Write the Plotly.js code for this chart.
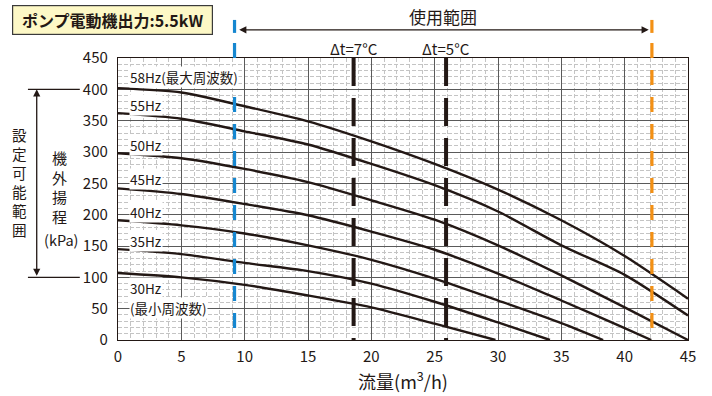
<!DOCTYPE html>
<html>
<head>
<meta charset="utf-8">
<script src="https://cdn.plot.ly/plotly-3.0.1.min.js"></script>
<style>
  html, body { margin: 0; padding: 0; background: #fff; }
  #chart { width: 712px; height: 396px; }
</style>
</head>
<body>
<div id="chart"></div>
<script>
// ---- data ----
const hz58Flow = [0, 5, 10, 15, 20, 25, 30, 35, 40, 45];
const hz58Head = [402, 395, 373, 349, 317, 281, 240, 191, 134, 66];
const hz55Flow = [0, 5, 10, 15, 20, 25, 30, 35, 40, 45];
const hz55Head = [362, 353, 333, 312, 281, 247, 205, 151, 104, 39];
const hz50Flow = [0, 5, 10, 15, 20, 25, 30, 35, 40, 45];
const hz50Head = [298, 290, 273, 252, 223, 192, 151, 103, 52, 0];
const hz45Flow = [0, 5, 10, 15, 20, 25, 30, 35, 40, 42.1];
const hz45Head = [242, 233, 217, 199, 173, 144, 106, 63, 19, 0];
const hz40Flow = [0, 5, 10, 15, 20, 25, 30, 35, 38.3];
const hz40Head = [191, 183, 170, 151, 128, 98, 63, 27, 0];
const hz35Flow = [0, 5, 10, 15, 20, 25, 30, 34.1];
const hz35Head = [145, 137, 123, 110, 90, 61, 28, 0];
const hz30Flow = [0, 5, 10, 15, 20, 25, 29.8];
const hz30Head = [107, 100, 88, 71, 52, 26, 0];

const curveNames = ['58Hz', '55Hz', '50Hz', '45Hz', '40Hz', '35Hz', '30Hz'];
const curveLabels = ['58Hz(最大周波数)', '55Hz', '50Hz', '45Hz', '40Hz', '35Hz', '30Hz', '(最小周波数)'];

const minFlow = 9.2;     // 使用範囲 lower bound (blue)
const maxFlow = 42.15;   // 使用範囲 upper bound (orange)
const dt7Flow = 18.6;    // Δt=7°C
const dt5Flow = 25.9;    // Δt=5°C
const dtLabels = ['Δt=7°C', 'Δt=5°C'];

const xTicks = [0, 5, 10, 15, 20, 25, 30, 35, 40, 45];
const yTicks = [0, 50, 100, 150, 200, 250, 300, 350, 400, 450];
const settingRange = [100, 400];

const titleText = 'ポンプ電動機出力:5.5kW';
const rangeText = '使用範囲';
const sideText1 = '設定可能範囲';
const sideText2 = '機外揚程';
const unitText = '(kPa)';
const xTitle = '流量(m<sup>3</sup>/h)';

// ---- build ----
const INK = '#231815';
const FONT = '"Noto Sans CJK JP", "Noto Sans", sans-serif';
const flows = [hz58Flow, hz55Flow, hz50Flow, hz45Flow, hz40Flow, hz35Flow, hz30Flow];
const heads = [hz58Head, hz55Head, hz50Head, hz45Head, hz40Head, hz35Head, hz30Head];

const traces = flows.map((f, i) => ({
  type: 'scatter', mode: 'lines', name: curveNames[i],
  x: f, y: heads[i],
  line: { color: INK, width: 2.4, shape: 'spline', smoothing: 0.7 },
  hoverinfo: 'skip', showlegend: false
}));

const shapes = [];
// black Δt lines
[dt7Flow, dt5Flow].forEach(v => shapes.push({
  type: 'line', xref: 'x', yref: 'y', x0: v, x1: v, y0: 450, y1: 0,
  line: { color: INK, width: 4, dash: '28px,12px' }, layer: 'above'
}));
// blue / orange range lines
[[minFlow, '#1687d0'], [maxFlow, '#f39014']].forEach(([v, c]) => {
  shapes.push({
    type: 'line', xref: 'x', yref: 'paper', x0: v, x1: v, y0: 1.053, y1: 0,
    line: { color: c, width: 3.2, dash: '15px,12px' }, layer: 'above'
  });
  shapes.push({
    type: 'line', xref: 'x', yref: 'paper', x0: v, x1: v, y0: 1.135, y1: 1.089,
    line: { color: c, width: 3.2 }, layer: 'above'
  });
});
// left bracket horizontal lines
settingRange.forEach(v => shapes.push({
  type: 'line', xref: 'paper', yref: 'y', x0: -0.158, x1: -0.067, y0: v, y1: v,
  line: { color: INK, width: 1.2 }
}));

const annotations = [];
// title box
annotations.push({
  xref: 'paper', yref: 'paper', x: -0.0098, y: 1.133, xanchor: 'center', yanchor: 'middle',
  text: '<b>' + titleText + '</b>', showarrow: false,
  font: { family: FONT, size: 16, color: INK },
  bgcolor: '#fdf8c6', bordercolor: '#3a3a3a', borderwidth: 1.2, borderpad: 1,
  width: 197, height: 26
});
// 使用範囲 arrow + text
annotations.push({
  xref: 'x', yref: 'paper', x: maxFlow - 0.25, y: 1.1, axref: 'x', ayref: 'pixel',
  ax: minFlow + 0.25, ay: 0, text: '', showarrow: true, arrowhead: 2, startarrowhead: 2,
  arrowside: 'end+start', arrowsize: 1.1, arrowwidth: 1.3, arrowcolor: INK
});
annotations.push({
  xref: 'x', yref: 'paper', x: (minFlow + maxFlow) / 2, y: 1.146, text: rangeText,
  showarrow: false, font: { family: FONT, size: 17, color: INK }, yanchor: 'middle'
});
// Δt labels
[dt7Flow, dt5Flow].forEach((v, i) => annotations.push({
  xref: 'x', yref: 'paper', x: v, y: 1.035, text: dtLabels[i], showarrow: false,
  yanchor: 'middle', font: { family: FONT, size: 15, color: INK }
}));
// curve labels
const labelY = [420, 375, 311, 257, 205, 158, 83, 51];
curveLabels.forEach((t, i) => annotations.push({
  xref: 'x', yref: 'y', x: 0.9, y: labelY[i], xanchor: 'left', yanchor: 'middle',
  text: t, showarrow: false, bgcolor: '#ffffff', borderpad: 0,
  font: { family: FONT, size: 13.5, color: INK }
}));
// left bracket arrow
annotations.push({
  xref: 'paper', yref: 'y', x: -0.1426, y: settingRange[1], axref: 'pixel', ayref: 'y',
  ax: 0, ay: settingRange[0], text: '', showarrow: true, arrowhead: 2, startarrowhead: 2,
  arrowside: 'end+start', arrowsize: 1.1, arrowwidth: 1.3, arrowcolor: INK
});
// vertical texts (one character per line)
annotations.push({
  xref: 'paper', yref: 'paper', x: -0.172, y: (340 - 181.7) / 282,
  text: Array.from(sideText1).join('<br>'), showarrow: false,
  xanchor: 'center', yanchor: 'middle',
  font: { family: FONT, size: 14.6, color: INK }
});
annotations.push({
  xref: 'paper', yref: 'paper', x: -0.1018, y: (340 - 186.7) / 282,
  text: Array.from(sideText2).join('<br>'), showarrow: false,
  xanchor: 'center', yanchor: 'middle',
  font: { family: FONT, size: 15, color: INK }
});
annotations.push({
  xref: 'paper', yref: 'paper', x: -0.1, y: (340 - 240) / 282,
  text: unitText, showarrow: false, xanchor: 'center', yanchor: 'middle',
  font: { family: FONT, size: 14.5, color: INK }
});

const layout = {
  width: 712, height: 396,
  margin: { l: 118, r: 24, t: 58, b: 56 },
  paper_bgcolor: '#ffffff', plot_bgcolor: '#ffffff',
  font: { family: FONT, color: INK, size: 15 },
  showlegend: false,
  xaxis: {
    range: [0, 45], tickvals: xTicks, ticktext: xTicks.map(String),
    showgrid: true, gridcolor: '#5a5a5a', gridwidth: 1,
    minor: { dtick: 1, showgrid: true, gridcolor: '#c4c4c4', gridwidth: 1, griddash: '4px,2px' },
    showline: true, mirror: true, linecolor: INK, linewidth: 1.2,
    zeroline: false, ticks: '', ticklabelstandoff: 3,
    tickfont: { family: FONT, size: 15, color: INK },
    title: { text: xTitle, font: { family: FONT, size: 18, color: INK }, standoff: 6 }
  },
  yaxis: {
    range: [0, 450], tickvals: yTicks, ticktext: yTicks.map(String),
    showgrid: true, gridcolor: '#5a5a5a', gridwidth: 1,
    minor: { dtick: 10, showgrid: true, gridcolor: '#c4c4c4', gridwidth: 1, griddash: '4px,2px' },
    showline: true, mirror: true, linecolor: INK, linewidth: 1.2,
    zeroline: false, ticks: '', ticklabelstandoff: 6,
    tickfont: { family: FONT, size: 15, color: INK }
  },
  shapes: shapes,
  annotations: annotations
};

Plotly.newPlot('chart', traces, layout, { staticPlot: true, displayModeBar: false });
</script>
</body>
</html>
